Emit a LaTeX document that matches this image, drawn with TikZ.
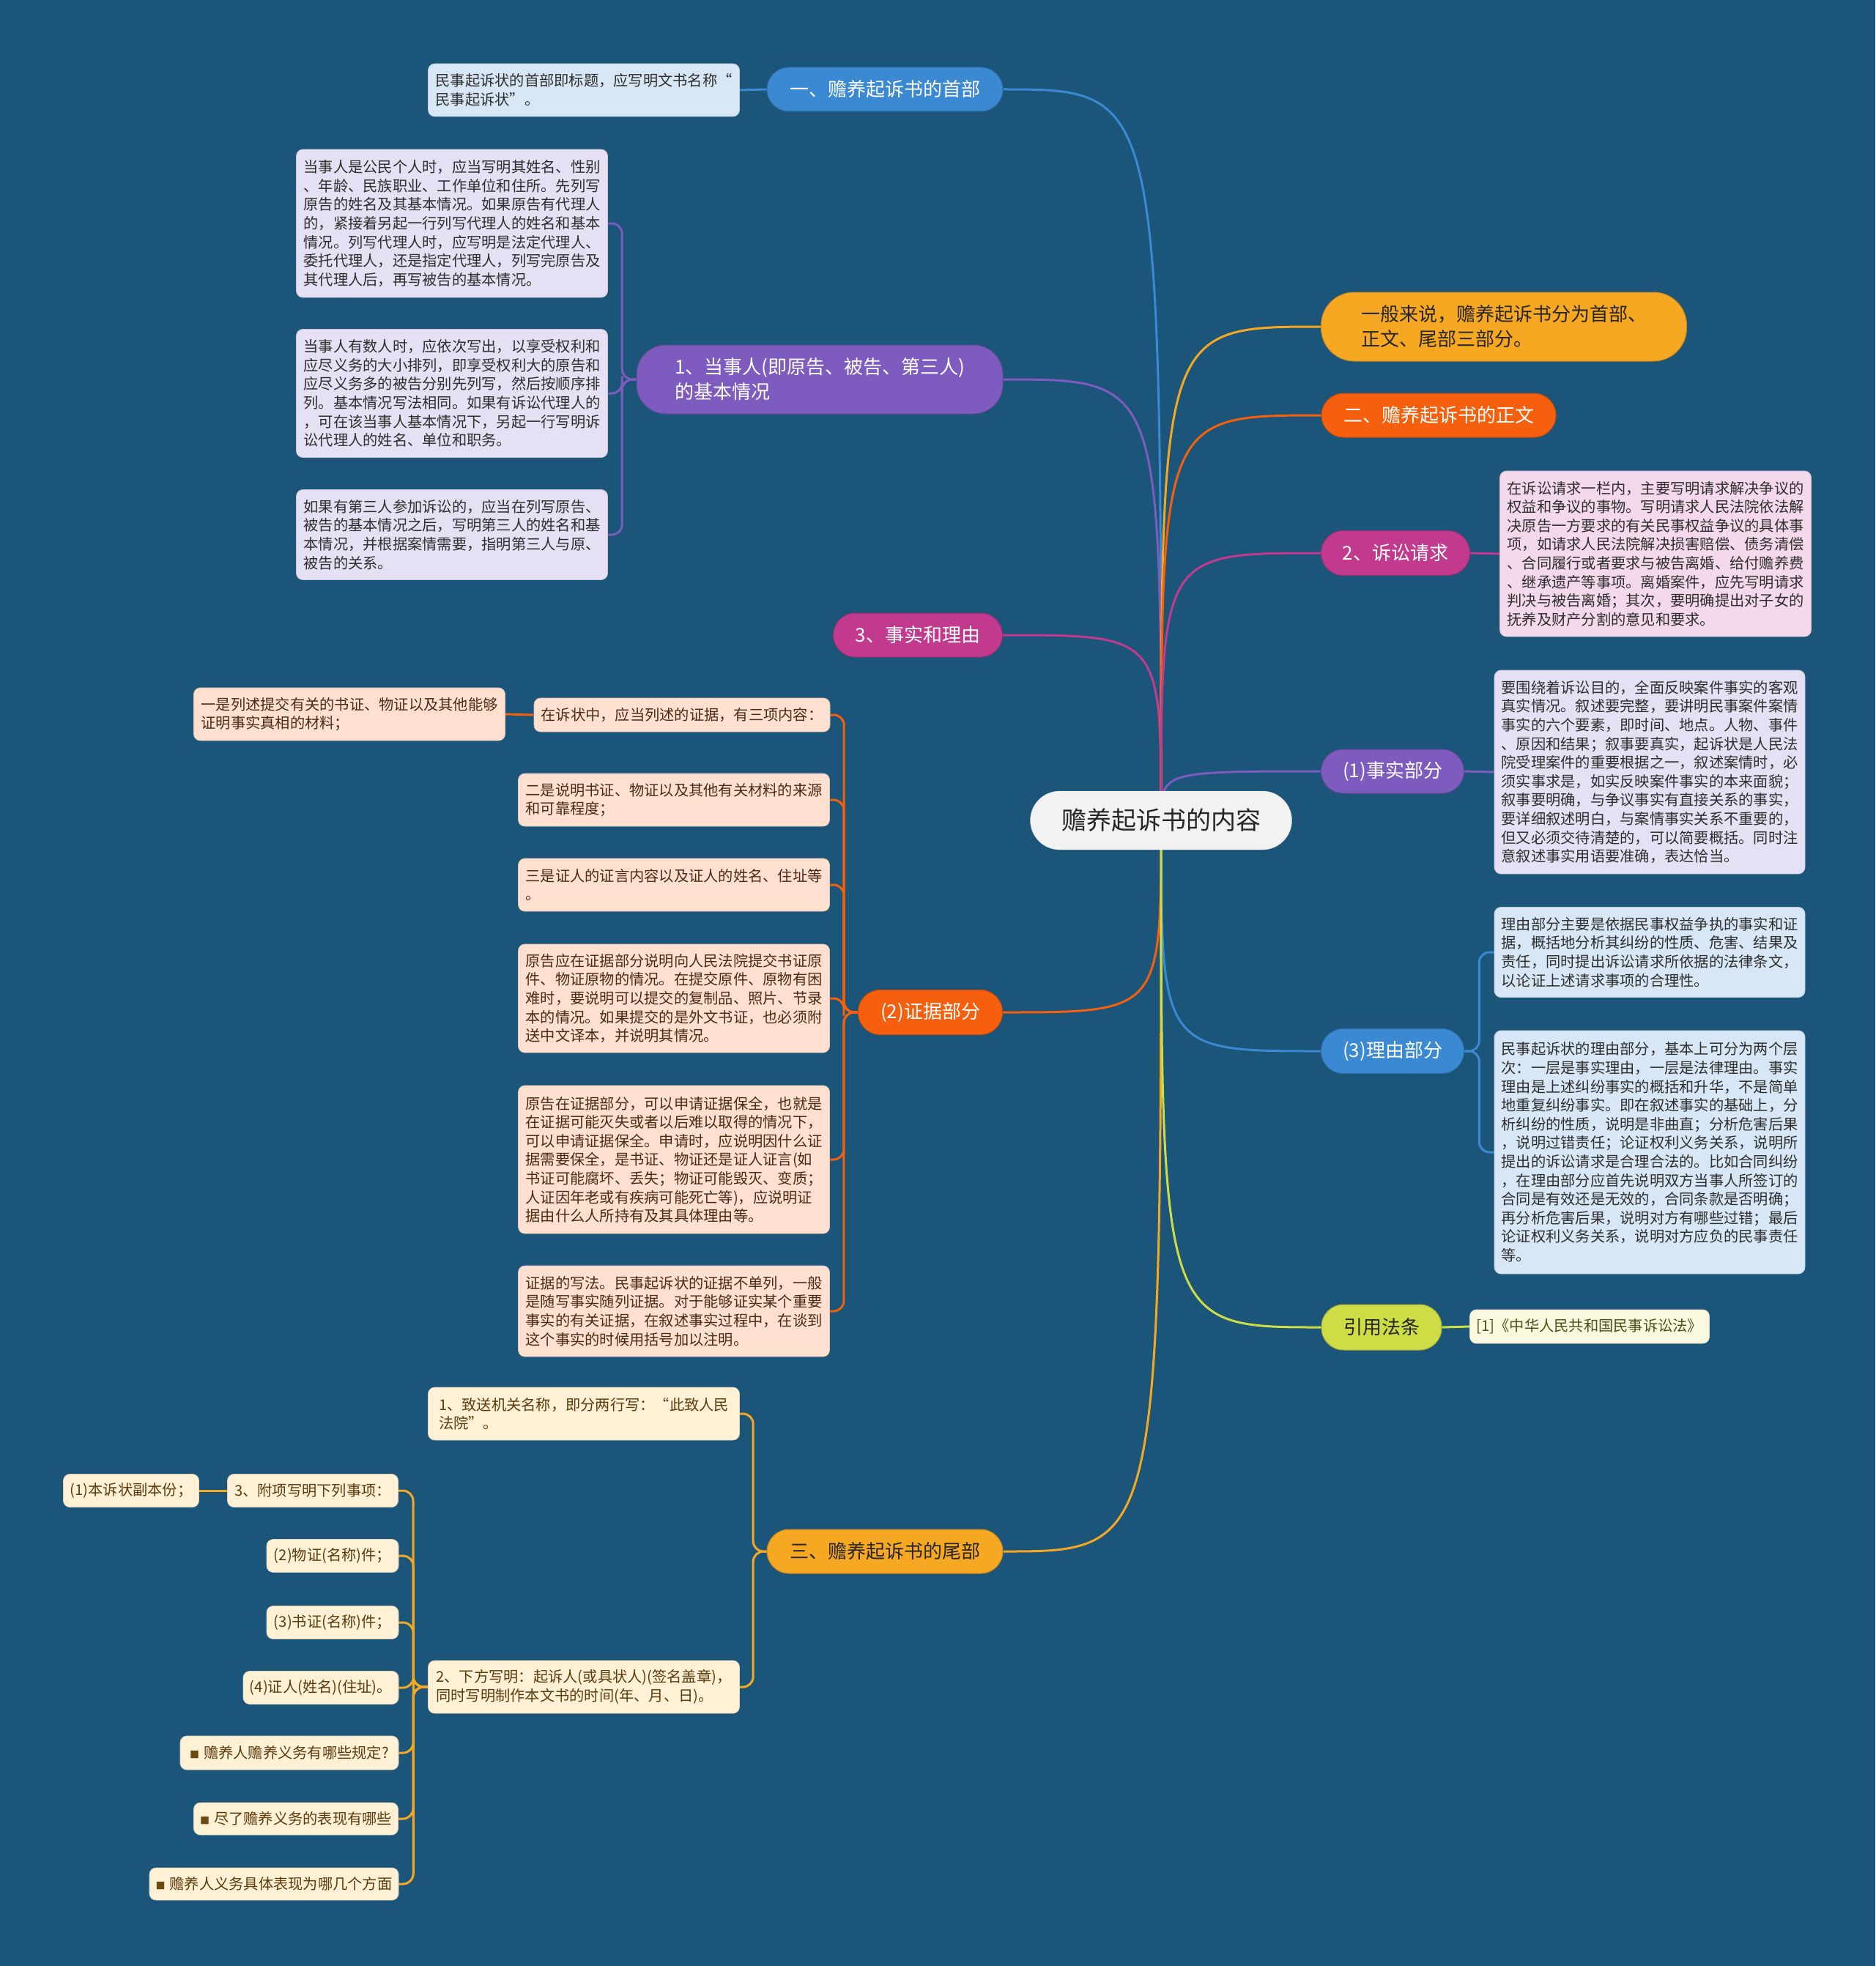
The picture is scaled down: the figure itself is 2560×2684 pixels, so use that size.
\documentclass[tikz,border=0pt]{standalone}
\usepackage{fontspec}
\setmainfont{Noto Sans CJK SC}
\usetikzlibrary{calc}
\definecolor{bgc}{HTML}{1B5579}
\definecolor{cblue}{HTML}{3A89D2}
\definecolor{cpurple}{HTML}{7E5BBE}
\definecolor{cmag}{HTML}{C13A8E}
\definecolor{cred}{HTML}{F55F0D}
\definecolor{corange}{HTML}{F7A823}
\definecolor{clime}{HTML}{CEDC45}
\definecolor{fblue}{HTML}{D8E7F5}
\definecolor{flav}{HTML}{E5E0F3}
\definecolor{fpink}{HTML}{F4D8EC}
\definecolor{fpeach}{HTML}{FDE0CF}
\definecolor{fcream}{HTML}{FEF1D6}
\definecolor{flime}{HTML}{FAF8DF}
\definecolor{fcenter}{HTML}{F2F2F2}
\definecolor{tdark}{HTML}{2E2E2E}
\definecolor{tbrown}{HTML}{4A2C14}
\definecolor{tcream}{HTML}{5C3B0C}
\definecolor{tolive}{HTML}{4E4E1A}
\definecolor{tbullet}{HTML}{6B4A12}
\pgfdeclarelayer{bgl}
\pgfdeclarelayer{edgel}
\pgfsetlayers{bgl,edgel,main}
\tikzset{
  topic/.style={fill=#1, draw=#1!80!black, line width=1pt, rounded corners=30pt,
    minimum height=60pt, inner xsep=0pt, inner ysep=0pt,
    font=\fontsize{26}{34}\selectfont, align=left},
  leaf/.style={fill=#1, draw=#1!88!black, line width=0.8pt, rounded corners=9pt,
    inner xsep=0pt, inner ysep=0pt, font=\fontsize{20.25}{25.6}\selectfont, align=left},
  eone/.style={line width=3pt, draw=#1},
  etwo/.style={line width=3pt, draw=#1, rounded corners=14pt},
}
\newcommand{\blt}{{\color{tbullet}\fontsize{13}{13}\selectfont ■}\hspace{6pt}}
\begin{document}
\begin{tikzpicture}[x=1pt,y=-1pt]
\useasboundingbox (0,0) rectangle (2560,2684);
\begin{pgfonlayer}{bgl}
\fill[bgc] (0,0) rectangle (2560,2684);
\end{pgfonlayer}

% center
\node[fill=fcenter, draw=fcenter!85!black, rounded corners=40pt, minimum width=357pt, minimum height=80pt,
  inner sep=0pt, font=\fontsize{34}{40}\selectfont, text=black!85] (c) at (1585,1120) {赡养起诉书的内容};

% ---- left: head
\node[topic=cblue, text=white, minimum width=322pt] (h1) at (1208,122) {一、赡养起诉书的首部};
\node[leaf=fblue, text=tdark, minimum width=425pt, minimum height=72pt] (h1a) at (797,123)
 {民事起诉状的首部即标题，应写明文书名称“\\民事起诉状”。};

% ---- left: parties
\node[topic=cpurple, text=white, minimum width=500pt, minimum height=94pt, rounded corners=40pt] (p1) at (1119,518)
 {1、当事人(即原告、被告、第三人)\\的基本情况};
\node[leaf=flav, text=tdark, minimum width=425pt, minimum height=202pt] (p1a) at (617,305)
 {当事人是公民个人时，应当写明其姓名、性别\\、年龄、民族职业、工作单位和住所。先列写\\原告的姓名及其基本情况。如果原告有代理人\\的，紧接着另起一行列写代理人的姓名和基本\\情况。列写代理人时，应写明是法定代理人、\\委托代理人，还是指定代理人，列写完原告及\\其代理人后，再写被告的基本情况。};
\node[leaf=flav, text=tdark, minimum width=425pt, minimum height=175pt] (p1b) at (617,537)
 {当事人有数人时，应依次写出，以享受权利和\\应尽义务的大小排列，即享受权利大的原告和\\应尽义务多的被告分别先列写，然后按顺序排\\列。基本情况写法相同。如果有诉讼代理人的\\，可在该当事人基本情况下，另起一行写明诉\\讼代理人的姓名、单位和职务。};
\node[leaf=flav, text=tdark, minimum width=425pt, minimum height=123pt] (p1c) at (617,730)
 {如果有第三人参加诉讼的，应当在列写原告、\\被告的基本情况之后，写明第三人的姓名和基\\本情况，并根据案情需要，指明第三人与原、\\被告的关系。};

% ---- left: facts and reasons
\node[topic=cmag, text=white, minimum width=231pt] (fr) at (1253,867) {3、事实和理由};

% ---- left: evidence
\node[topic=cred, text=white, minimum width=197pt, minimum height=61pt] (ev) at (1270,1382) {(2)证据部分};
\node[leaf=fpeach, text=tbrown, minimum width=404pt, minimum height=46pt] (e0) at (931,976)
 {在诉状中，应当列述的证据，有三项内容：};
\node[leaf=fpeach, text=tbrown, minimum width=425pt, minimum height=72pt] (e0a) at (477,975)
 {一是列述提交有关的书证、物证以及其他能够\\证明事实真相的材料；};
\node[leaf=fpeach, text=tbrown, minimum width=425pt, minimum height=72pt] (e2) at (920,1092)
 {二是说明书证、物证以及其他有关材料的来源\\和可靠程度；};
\node[leaf=fpeach, text=tbrown, minimum width=425pt, minimum height=72pt] (e3) at (920,1208)
 {三是证人的证言内容以及证人的姓名、住址等\\。};
\node[leaf=fpeach, text=tbrown, minimum width=425pt, minimum height=148pt] (e4) at (920,1363)
 {原告应在证据部分说明向人民法院提交书证原\\件、物证原物的情况。在提交原件、原物有困\\难时，要说明可以提交的复制品、照片、节录\\本的情况。如果提交的是外文书证，也必须附\\送中文译本，并说明其情况。};
\node[leaf=fpeach, text=tbrown, minimum width=425pt, minimum height=202pt] (e5) at (920,1583)
 {原告在证据部分，可以申请证据保全，也就是\\在证据可能灭失或者以后难以取得的情况下，\\可以申请证据保全。申请时，应说明因什么证\\据需要保全，是书证、物证还是证人证言(如\\书证可能腐坏、丢失；物证可能毁灭、变质；\\人证因年老或有疾病可能死亡等)，应说明证\\据由什么人所持有及其具体理由等。};
\node[leaf=fpeach, text=tbrown, minimum width=425pt, minimum height=124pt] (e6) at (920,1790)
 {证据的写法。民事起诉状的证据不单列，一般\\是随写事实随列证据。对于能够证实某个重要\\事实的有关证据，在叙述事实过程中，在谈到\\这个事实的时候用括号加以注明。};

% ---- left: tail
\node[topic=corange, text=black!85, minimum width=322pt] (tl) at (1208,2118) {三、赡养起诉书的尾部};
\node[leaf=fcream, text=tcream, minimum width=425pt, minimum height=72pt] (t1) at (797,1930)
 {1、致送机关名称，即分两行写：“此致人民\\法院”。};
\node[leaf=fcream, text=tcream, minimum width=425pt, minimum height=72pt] (t2) at (797,2303)
 {2、下方写明：起诉人(或具状人)(签名盖章)，\\同时写明制作本文书的时间(年、月、日)。};
\node[leaf=fcream, text=tcream, minimum width=233pt, minimum height=45pt] (t3) at (427,2035) {3、附项写明下列事项：};
\node[leaf=fcream, text=tcream, minimum width=185pt, minimum height=45pt] (t3a) at (179,2035) {(1)本诉状副本份；};
\node[leaf=fcream, text=tcream, minimum width=180pt, minimum height=45pt] (t4) at (454,2124) {(2)物证(名称)件；};
\node[leaf=fcream, text=tcream, minimum width=180pt, minimum height=45pt] (t5) at (454,2215) {(3)书证(名称)件；};
\node[leaf=fcream, text=tcream, minimum width=212pt, minimum height=45pt] (t6) at (438,2304) {(4)证人(姓名)(住址)。};
\node[leaf=fcream, text=tcream, minimum width=298pt, minimum height=46pt] (t7) at (395,2393) {\blt 赡养人赡养义务有哪些规定?};
\node[leaf=fcream, text=tcream, minimum width=279pt, minimum height=44pt] (t8) at (404,2483) {\blt 尽了赡养义务的表现有哪些};
\node[leaf=fcream, text=tcream, minimum width=340pt, minimum height=44pt] (t9) at (374,2572) {\blt 赡养人义务具体表现为哪几个方面};

% ---- right
\node[topic=corange, text=black!85, minimum width=499pt, minimum height=94pt, rounded corners=45pt] (gen) at (2053,446)
 {一般来说，赡养起诉书分为首部、\\正文、尾部三部分。};
\node[topic=cred, text=white, minimum width=320pt] (zw) at (1964,567) {二、赡养起诉书的正文};
\node[topic=cmag, text=white, minimum width=203pt, minimum height=61pt] (sq) at (1905,755) {2、诉讼请求};
\node[leaf=fpink, text=tdark, minimum width=425pt, minimum height=226pt] (sqa) at (2260,756)
 {在诉讼请求一栏内，主要写明请求解决争议的\\权益和争议的事物。写明请求人民法院依法解\\决原告一方要求的有关民事权益争议的具体事\\项，如请求人民法院解决损害赔偿、债务清偿\\、合同履行或者要求与被告离婚、给付赡养费\\、继承遗产等事项。离婚案件，应先写明请求\\判决与被告离婚；其次，要明确提出对子女的\\抚养及财产分割的意见和要求。};
\node[topic=cpurple, text=white, minimum width=195pt] (ss) at (1901,1053) {(1)事实部分};
\node[leaf=flav, text=tdark, minimum width=424pt, minimum height=278pt] (ssa) at (2252,1054)
 {要围绕着诉讼目的，全面反映案件事实的客观\\真实情况。叙述要完整，要讲明民事案件案情\\事实的六个要素，即时间、地点。人物、事件\\、原因和结果；叙事要真实，起诉状是人民法\\院受理案件的重要根据之一，叙述案情时，必\\须实事求是，如实反映案件事实的本来面貌；\\叙事要明确，与争议事实有直接关系的事实，\\要详细叙述明白，与案情事实关系不重要的，\\但又必须交待清楚的，可以简要概括。同时注\\意叙述事实用语要准确，表达恰当。};
\node[topic=cblue, text=white, minimum width=195pt, minimum height=61pt] (ly) at (1901,1435) {(3)理由部分};
\node[leaf=fblue, text=tdark, minimum width=424pt, minimum height=123pt] (lya) at (2252,1300)
 {理由部分主要是依据民事权益争执的事实和证\\据，概括地分析其纠纷的性质、危害、结果及\\责任，同时提出诉讼请求所依据的法律条文，\\以论证上述请求事项的合理性。};
\node[leaf=fblue, text=tdark, minimum width=424pt, minimum height=332pt] (lyb) at (2252,1573)
 {民事起诉状的理由部分，基本上可分为两个层\\次：一层是事实理由，一层是法律理由。事实\\理由是上述纠纷事实的概括和升华，不是简单\\地重复纠纷事实。即在叙述事实的基础上，分\\析纠纷的性质，说明是非曲直；分析危害后果\\，说明过错责任；论证权利义务关系，说明所\\提出的诉讼请求是合理合法的。比如合同纠纷\\，在理由部分应首先说明双方当事人所签订的\\合同是有效还是无效的，合同条款是否明确；\\再分析危害后果，说明对方有哪些过错；最后\\论证权利义务关系，说明对方应负的民事责任\\等。};
\node[topic=clime, text=black!85, minimum width=164pt, minimum height=62pt] (yy) at (1886,1812) {引用法条};
\node[leaf=flime, text=tolive, minimum width=327pt, minimum height=46pt] (yya) at (2170,1811) {[1]《中华人民共和国民事诉讼法》};

\begin{pgfonlayer}{edgel}
% level one
\foreach \n/\col in {h1/cblue, p1/cpurple, fr/cmag, ev/cred, tl/corange}
  \draw[eone=\col] (c.center) .. controls (c.center |- \n.east) .. (\n.east);
\foreach \n/\col in {gen/corange, zw/cred, sq/cmag, ss/cpurple, ly/cblue, yy/clime}
  \draw[eone=\col] (c.center) .. controls (c.center |- \n.west) .. (\n.west);
% level two
\draw[eone=cblue] (h1.west) -- (h1a.east);
\foreach \m in {p1a,p1b,p1c}
  \draw[etwo=cpurple] (p1.west) -| ($(p1.west)!0.5!(\m.east)$) |- (\m.east);
\foreach \m in {e0,e2,e3,e4,e5,e6}
  \draw[etwo=cred] (ev.west) -| ($(ev.west)!0.5!(\m.east)$) |- (\m.east);
\draw[eone=cred] (e0.west) -- (e0a.east);
\foreach \m in {t1,t2}
  \draw[etwo=corange] (tl.west) -| ($(tl.west)!0.5!(\m.east)$) |- (\m.east);
\foreach \m in {t3,t4,t5,t6,t7,t8,t9}
  \draw[etwo=corange] (t2.west) -| ($(t2.west)!0.5!(\m.east)$) |- (\m.east);
\draw[eone=corange] (t3.west) -- (t3a.east);
\draw[eone=cmag] (sq.east) -- (sqa.west);
\draw[eone=cpurple] (ss.east) -- (ssa.west);
\foreach \m in {lya,lyb}
  \draw[etwo=cblue] (ly.east) -| ($(ly.east)!0.5!(\m.west)$) |- (\m.west);
\draw[eone=clime] (yy.east) -- (yya.west);
\end{pgfonlayer}
\end{tikzpicture}
\end{document}
